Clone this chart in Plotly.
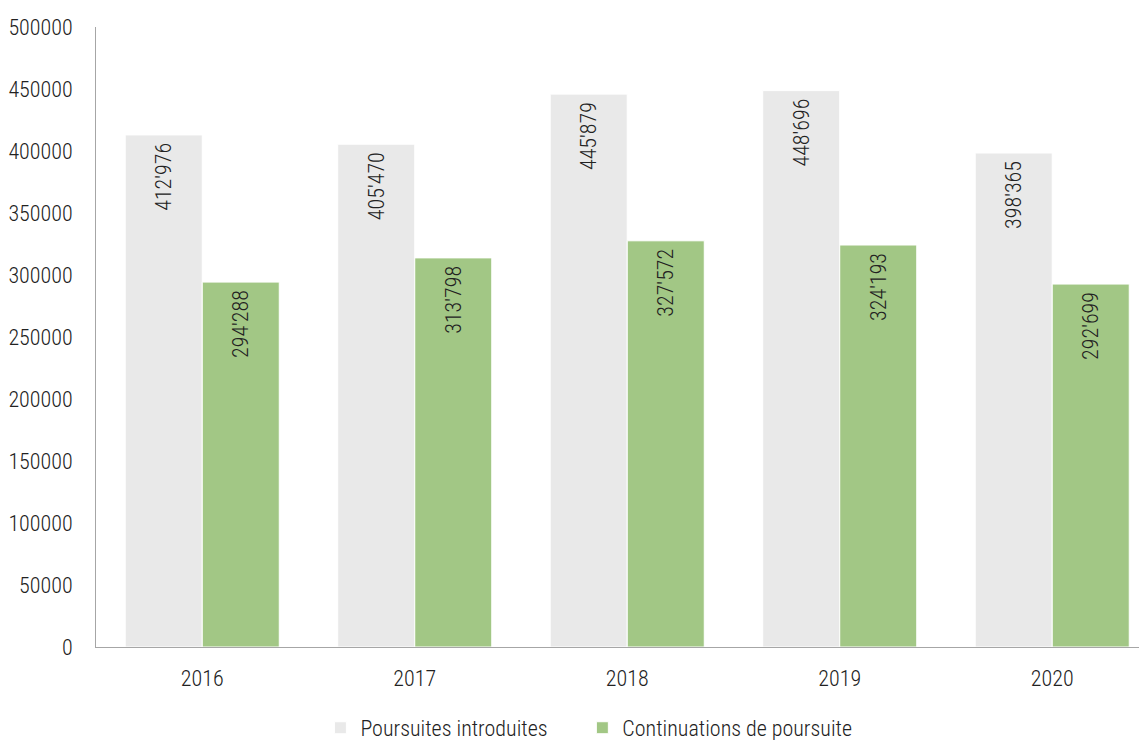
import plotly.graph_objects as go

years = ["2016", "2017", "2018", "2019", "2020"]
poursuites = [412976, 405470, 445879, 448696, 398365]
continuations = [294288, 313798, 327572, 324193, 292699]

font = "Roboto Condensed, Roboto"
fs = 22
w = 300
pad = "\u00a0" * 6

fig = go.Figure()
fig.add_trace(go.Bar(
    x=years, y=poursuites, name="Poursuites introduites" + pad,
    marker=dict(color="#E9E9E9", line=dict(color="white", width=1)),
    texttemplate="%{y:,}\u00a0", textposition="inside", insidetextanchor="end",
    textangle=-90, textfont=dict(family=font, size=fs, color="#222222", weight=w),
))
fig.add_trace(go.Bar(
    x=years, y=continuations, name="Continuations de poursuite",
    marker=dict(color="#A2C785", line=dict(color="white", width=1)),
    texttemplate="%{y:,}\u00a0", textposition="inside", insidetextanchor="end",
    textangle=-90, textfont=dict(family=font, size=fs, color="#222222", weight=w),
))

fig.update_layout(
    width=1139, height=732,
    margin=dict(l=88, r=0, t=19, b=93, autoexpand=False),
    paper_bgcolor="white", plot_bgcolor="white",
    separators=".'",
    barmode="group", bargap=0.275, bargroupgap=0,
    font=dict(family=font, size=fs, color="#222222", weight=w),
    showlegend=True,
    legend=dict(orientation="h", x=0.51, xanchor="center", xref="container",
                y=0.0165, yanchor="middle", yref="container",
                font=dict(family=font, size=fs, color="#222222", weight=w),
                itemwidth=30, traceorder="normal"),
    uniformtext=dict(mode=False),
)
fig.update_xaxes(range=[-0.5, 4.446], showline=True, linecolor="#A6A6A6", linewidth=1,
                 ticks="", tickfont=dict(size=fs, weight=w), showgrid=False, automargin=False,
                 ticklabelstandoff=12)
fig.update_yaxes(range=[0, 500000], dtick=50000, tickformat="d", showline=True,
                 linecolor="#A6A6A6", linewidth=1, showgrid=False, zeroline=False,
                 ticks="", tickfont=dict(size=fs, weight=w), ticklabelstandoff=18, automargin=False)

fig.write_html("out.html")
